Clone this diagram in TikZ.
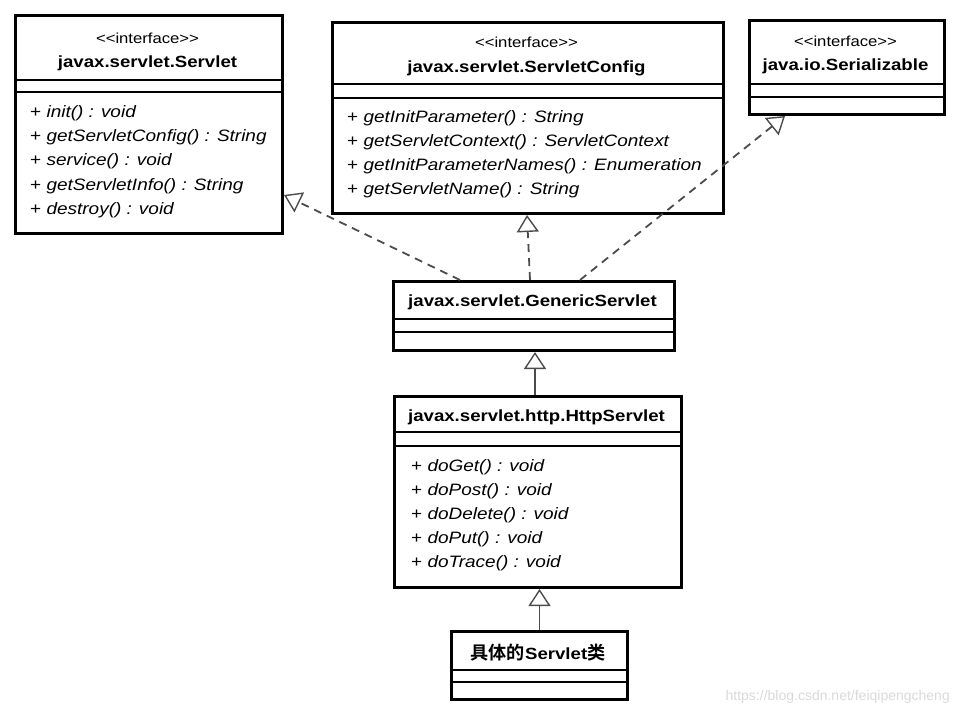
\documentclass[tikz,border=0pt]{standalone}
\usepackage{fontspec}
\setmainfont{Liberation Sans}[FakeStretch=1.15]
\newfontfamily\cjk{Noto Sans CJK SC}[BoldFont={Noto Sans CJK SC Bold}, Scale=1.12]
\newfontfamily\markfont{Liberation Sans}
\usetikzlibrary{arrows.meta}
\tikzset{
  umlbox/.style={draw, line width=3pt, anchor=north west, inner sep=0pt},
  stereo/.style={font=\fontsize{14.5}{16}\selectfont, inner sep=0pt},
  cname/.style={font=\fontsize{16.2}{18}\selectfont\bfseries, inner sep=0pt},
  member/.style={font=\fontsize{16.5}{18}\selectfont\itshape, anchor=west, inner sep=0pt},
  divider/.style={line width=1.8pt},
  realize/.style={dashed, dash pattern=on 8pt off 6pt, line width=1.8pt, draw=black!70,
    -{Triangle[open, length=17pt, width=22pt, line width=1.4pt]}},
  extend/.style={line width=1.8pt, draw=black!70,
    -{Triangle[open, length=17pt, width=22pt, line width=1.4pt]}}
}
\begin{document}
\begin{tikzpicture}[x=1pt, y=-1pt]
    \useasboundingbox (0,0) rectangle (960,716);
    %% interfaces
    \node[umlbox, minimum width=267pt, minimum height=218pt] (servlet) at (14,14) {};
    \node[stereo] (servletst) at (147.5,38) {<{}<interface>{}>};
    \node[cname] (servletnm) at (147.5,63) {javax.servlet.Servlet};
    \draw[divider] ([yshift=-66pt]servlet.north west) -- ([yshift=-66pt]servlet.north east);
    \draw[divider] ([yshift=-78pt]servlet.north west) -- ([yshift=-78pt]servlet.north east);
    \node[member] (m1) at (30,113) {\upshape+ \itshape init() : void};
    \node[member] (m2) at (30,137) {\upshape+ \itshape getServletConfig() : String};
    \node[member] (m3) at (30,161) {\upshape+ \itshape service() : void};
    \node[member] (m4) at (30,186) {\upshape+ \itshape getServletInfo() : String};
    \node[member] (m5) at (30,210) {\upshape+ \itshape destroy() : void};

    \node[umlbox, minimum width=391pt, minimum height=191pt] (config) at (331,21) {};
    \node[stereo] (configst) at (526.5,42) {<{}<interface>{}>};
    \node[cname] (confignm) at (526.5,68) {javax.servlet.ServletConfig};
    \draw[divider] ([yshift=-63pt]config.north west) -- ([yshift=-63pt]config.north east);
    \draw[divider] ([yshift=-77pt]config.north west) -- ([yshift=-77pt]config.north east);
    \node[member] (c1) at (347,118) {\upshape+ \itshape getInitParameter() : String};
    \node[member] (c2) at (347,142) {\upshape+ \itshape getServletContext() : ServletContext};
    \node[member] (c3) at (347,166) {\upshape+ \itshape getInitParameterNames() : Enumeration};
    \node[member] (c4) at (347,190) {\upshape+ \itshape getServletName() : String};

    \node[umlbox, minimum width=195pt, minimum height=94pt] (serial) at (748,19) {};
    \node[stereo] (serialst) at (845.5,41) {<{}<interface>{}>};
    \node[cname] (serialnm) at (845.5,66) {java.io.Serializable};
    \draw[divider] ([yshift=-65pt]serial.north west) -- ([yshift=-65pt]serial.north east);
    \draw[divider] ([yshift=-78pt]serial.north west) -- ([yshift=-78pt]serial.north east);

    %% classes
    \node[umlbox, minimum width=281pt, minimum height=69pt] (generic) at (392,280) {};
    \node[cname] (genericnm) at (532.5,302) {javax.servlet.GenericServlet};
    \draw[divider] ([yshift=-39pt]generic.north west) -- ([yshift=-39pt]generic.north east);
    \draw[divider] ([yshift=-52pt]generic.north west) -- ([yshift=-52pt]generic.north east);

    \node[umlbox, minimum width=287pt, minimum height=191pt] (http) at (393,395) {};
    \node[cname] (httpnm) at (536.5,417) {javax.servlet.http.HttpServlet};
    \draw[divider] ([yshift=-37pt]http.north west) -- ([yshift=-37pt]http.north east);
    \draw[divider] ([yshift=-51pt]http.north west) -- ([yshift=-51pt]http.north east);
    \node[member] (h1) at (411,467) {\upshape+ \itshape doGet() : void};
    \node[member] (h2) at (411,491) {\upshape+ \itshape doPost() : void};
    \node[member] (h3) at (411,515) {\upshape+ \itshape doDelete() : void};
    \node[member] (h4) at (411,539) {\upshape+ \itshape doPut() : void};
    \node[member] (h5) at (411,563) {\upshape+ \itshape doTrace() : void};

    \node[umlbox, minimum width=176pt, minimum height=68pt] (concrete) at (450,630) {};
    \node[cname] (concretenm) at (538,653) {{\cjk\bfseries 具体的}Servlet{\cjk\bfseries 类}};
    \draw[divider] ([yshift=-40pt]concrete.north west) -- ([yshift=-40pt]concrete.north east);
    \draw[divider] ([yshift=-52pt]concrete.north west) -- ([yshift=-52pt]concrete.north east);

    %% connectors
    \draw[realize] ([xshift=68pt]generic.north west) -- ([yshift=-181pt]servlet.north east);
    \draw[realize] ([xshift=138pt]generic.north west) -- ([xshift=196pt]config.south west);
    \draw[realize] ([xshift=188pt]generic.north west) -- ([xshift=37pt]serial.south west);
    \draw[extend] ([xshift=142pt]http.north west) -- ([xshift=142pt]http.north west |- generic.south);
    \draw[extend] (concrete.north) -- (concrete.north |- http.south);

    % watermark
    \node[font=\markfont\fontsize{14}{15}\selectfont, text=black!15, anchor=east, inner sep=0pt] (mark) at (950,697) {https://blog.csdn.net/feiqipengcheng};
\end{tikzpicture}
\end{document}
